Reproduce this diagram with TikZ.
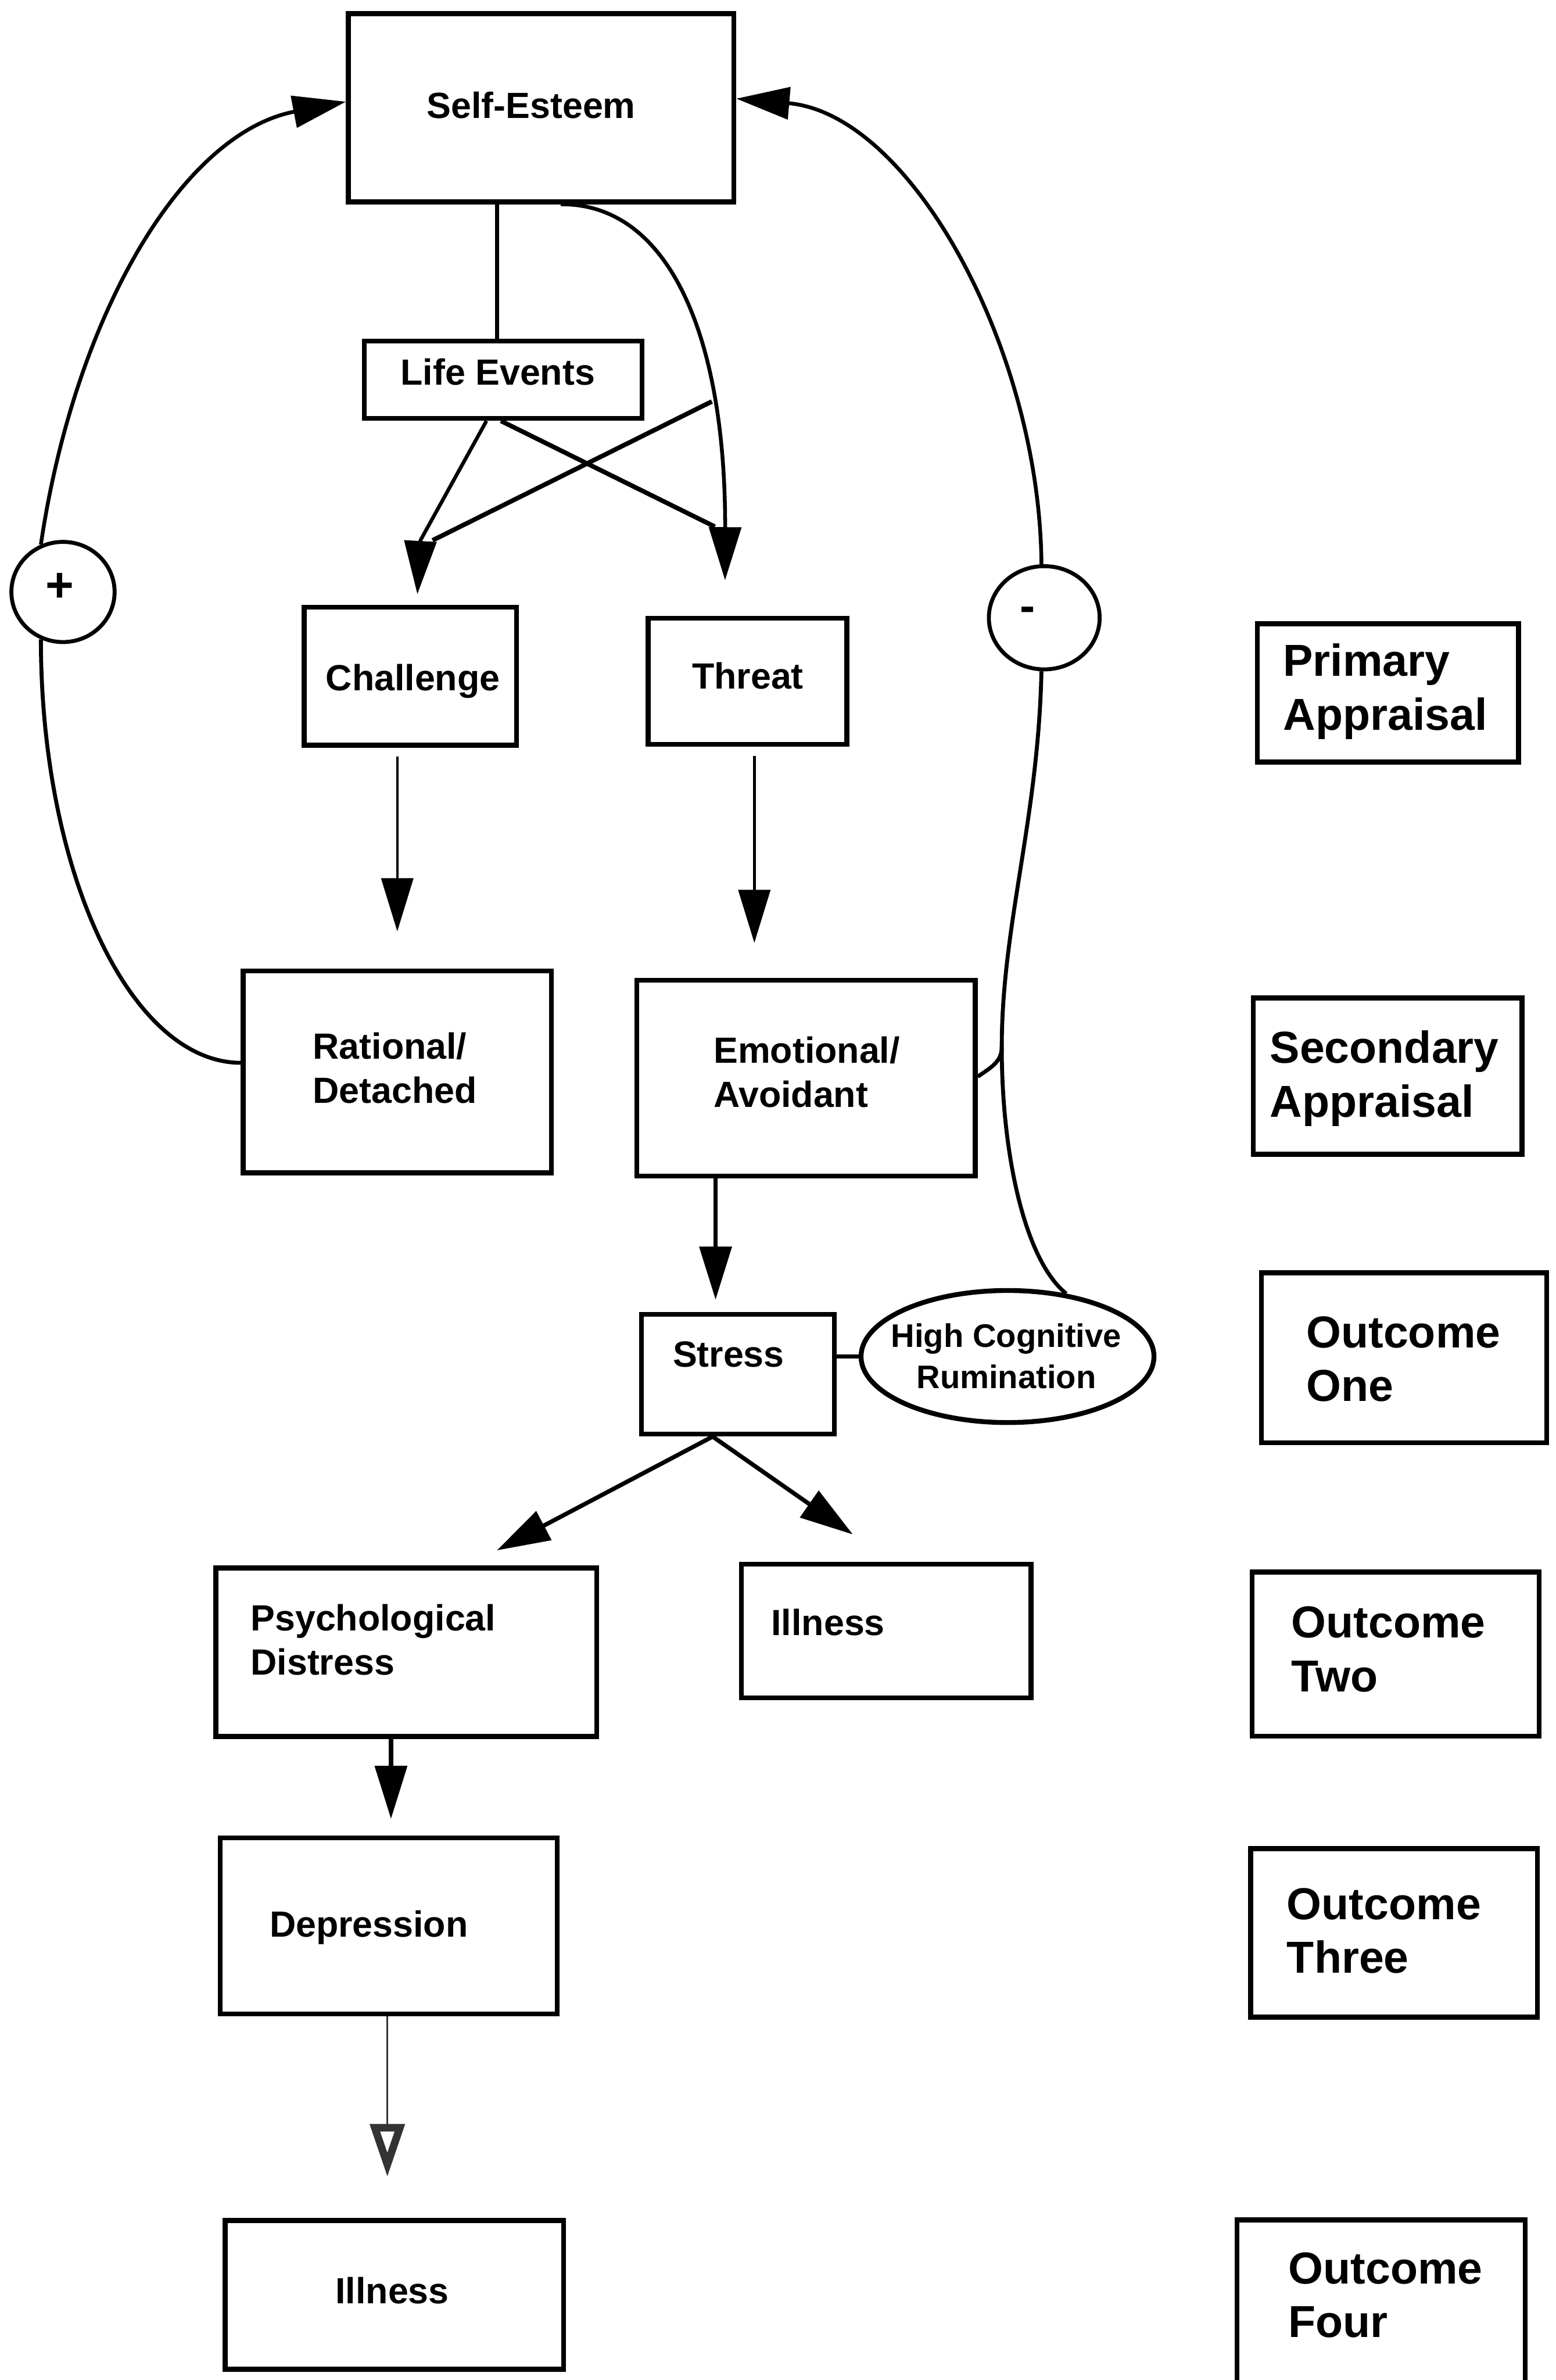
\documentclass[tikz,border=0pt]{standalone}
\usepackage{fontspec}
\setmainfont{Liberation Sans}
\usetikzlibrary{arrows.meta,shapes.geometric}

\begin{document}
\begin{tikzpicture}[x=1pt,y=-1pt,
    box/.style={draw, line width=3.2pt, inner sep=0pt},
    lbl/.style={inner sep=0pt, font=\bfseries\fontsize{24}{29}\selectfont},
    side/.style={inner sep=0pt, align=left, anchor=base west, font=\bfseries\fontsize{29.5}{35.5}\selectfont},
    conn/.style={line width=2.6pt},
    arr/.style={line width=2.8pt, -{Triangle[length=35pt,width=21pt]}},
    slim/.style={line width=1.7pt, -{Triangle[length=35pt,width=21pt]}}]

    \useasboundingbox (0,0) rectangle (1025,1568);
    \clip (0,0) rectangle (1025,1568);

    % boxes of the model
    \node[box, minimum width=254pt, minimum height=124pt] (esteem) at (356.5,71) {};
    \node[box, minimum width=183pt, minimum height=51pt] (life) at (331.5,250.2) {};
    \node[box, minimum width=140pt, minimum height=91pt] (chal) at (270.4,445.5) {};
    \node[box, minimum width=131pt, minimum height=83pt] (threat) at (492.5,448.9) {};
    \node[box, minimum width=203pt, minimum height=133pt] (rat) at (261.75,706.2) {};
    \node[box, minimum width=223pt, minimum height=129pt] (emo) at (531.1,710.3) {};
    \node[box, minimum width=127pt, minimum height=79pt] (stress) at (486.15,905.35) {};
    \node[box, ellipse, minimum width=193pt, minimum height=87pt] (rum) at (663.8,893.7) {};
    \node[box, minimum width=251pt, minimum height=111pt] (psych) at (267.7,1088.5) {};
    \node[box, minimum width=191pt, minimum height=88pt] (ill1) at (583.85,1074.5) {};
    \node[box, minimum width=222pt, minimum height=116pt] (dep) at (256.2,1268.9) {};
    \node[box, minimum width=223pt, minimum height=98pt] (ill2) at (259.85,1511.9) {};

    % stage column
    \node[box, minimum width=172pt, minimum height=91pt] (prim) at (914.5,456.5) {};
    \node[box, minimum width=177pt, minimum height=103pt] (sec) at (914.2,709) {};
    \node[box, minimum width=188pt, minimum height=112pt] (out1) at (925,894.5) {};
    \node[box, minimum width=189pt, minimum height=108pt] (out2) at (919.5,1089.75) {};
    \node[box, minimum width=189pt, minimum height=111pt] (out3) at (918.5,1273.35) {};
    \node[box, minimum width=190pt, minimum height=135pt] (out4) at (909.9,1530) {};

    % texts (two-line nodes sit on their last baseline)
    \node[lbl, anchor=base] (esteem-t) at (350,78) {Self-Esteem};
    \node[lbl, anchor=base] (life-t) at (328,253.5) {Life Events};
    \node[lbl, anchor=base] (chal-t) at (272,455) {Challenge};
    \node[lbl, anchor=base] (threat-t) at (492.7,454) {Threat};
    \node[lbl, align=left, anchor=base west] (rat-t) at (206,726.8) {Rational/\\Detached};
    \node[lbl, align=left, anchor=base west] (emo-t) at (470,729.4) {Emotional/\\Avoidant};
    \node[lbl, anchor=base] (stress-t) at (480,900.5) {Stress};
    \node[inner sep=0pt, align=center, anchor=base, font=\bfseries\fontsize{21.5}{27}\selectfont] (rum-t) at (663,914.6) {High Cognitive\\Rumination};
    \node[lbl, align=left, anchor=base west] (psych-t) at (165,1103.5) {Psychological\\Distress};
    \node[lbl, anchor=base west] (ill1-t) at (508,1077.6) {Illness};
    \node[lbl, anchor=base] (dep-t) at (243,1276) {Depression};
    \node[lbl, anchor=base] (ill2-t) at (258.4,1517.5) {Illness};

    \node[side] (prim-t) at (845.2,481) {Primary\\Appraisal};
    \node[side] (sec-t) at (836.5,735.8) {Secondary\\Appraisal};
    \node[side] (out1-t) at (860.5,923.3) {Outcome\\One};
    \node[side] (out2-t) at (850.7,1114.6) {Outcome\\Two};
    \node[side] (out3-t) at (847.7,1300) {Outcome\\Three};
    \node[side] (out4-t) at (848.7,1540) {Outcome\\Four};

    % life events to appraisal
    \coordinate (fork) at (469,264.5);
    \coordinate (chalbase) at (277,356);
    \draw[conn] ([xshift=-4pt]life.north) -- ([xshift=-4pt]life.north |- esteem.south);
    \draw[arr, line width=2.5pt] ([xshift=13pt]esteem.south) .. controls (440,134) and (478,220) .. ([xshift=-14.8pt,yshift=23.5pt]threat.north);
    \draw[conn, line width=3pt] ([xshift=-1.5pt]life.south) -- (471,347);
    \draw[arr, line width=2.4pt] ([xshift=-11pt]life.south) -- (chalbase) -- ([xshift=4.6pt,yshift=7pt]chal.north);
    \draw[conn, line width=3pt] (fork) -- ([xshift=8pt]chalbase);

    % appraisal to coping
    \draw[slim, shorten <=6pt, shorten >=24.5pt] (rat.north |- chal.south) -- (rat.north);
    \draw[slim, shorten <=6pt, shorten >=23pt] ([xshift=4.5pt]threat.south) -- ([xshift=4.5pt]threat.south |- emo.north);
    \draw[arr, shorten >=8pt] ([xshift=-14.7pt]stress.north |- emo.south) -- ([xshift=-14.7pt]stress.north);
    \draw[conn] (rum.west -| stress.east) -- (rum.west);

    % outcomes
    \draw[arr] ([xshift=-16.6pt]stress.south) -- ([xshift=-67.4pt,yshift=10pt]psych.north east);
    \draw[arr] ([xshift=-16.6pt]stress.south) -- ([xshift=-22pt,yshift=18pt]ill1.north);
    \draw[arr, shorten >=11pt] ([xshift=1.4pt]dep.north |- psych.south) -- ([xshift=1.4pt]dep.north);
    \draw[line width=1.1pt, black!80, -{Triangle[open,length=35pt,width=22pt,line width=5pt]}, shorten >=27pt] ([xshift=-1pt]dep.south) -- ([xshift=-1pt]dep.south |- ill2.north);

    % feedback loops
    \node[draw, line width=2.6pt, ellipse, fill=white, minimum width=68pt, minimum height=66pt, inner sep=0pt] (plus) at (41.5,390) {};
    \node[draw, line width=2.6pt, ellipse, fill=white, minimum width=73pt, minimum height=68pt, inner sep=0pt] (minus) at (688,407) {};
    \node[inner sep=0pt, font=\bfseries\fontsize{32}{32}\selectfont] (plus-t) at (39.3,387) {+};
    \node[inner sep=0pt, font=\bfseries\fontsize{30}{30}\selectfont] (minus-t) at (677,404.7) {-};

    \draw[conn] ([yshift=6pt]rat.west) .. controls (86,700) and (27,575) .. (plus.-115);
    \draw[arr, line width=2.5pt] (plus.115) .. controls (49.2,208.3) and (119.7,87.9) .. ([yshift=4pt]esteem.west);

    \coordinate (merge) at (660,690);
    \draw[conn] (rum.47) .. controls (675,830) and (660,760) .. (merge) .. controls (660,610) and (684,540) .. (minus.-93);
    \draw[conn] ([yshift=1pt]emo.east) to[out=35,in=-90] (merge);
    \draw[arr, line width=2.5pt] (minus.93) .. controls (685,230) and (600,75) .. ([yshift=6pt]esteem.east);
\end{tikzpicture}
\end{document}
